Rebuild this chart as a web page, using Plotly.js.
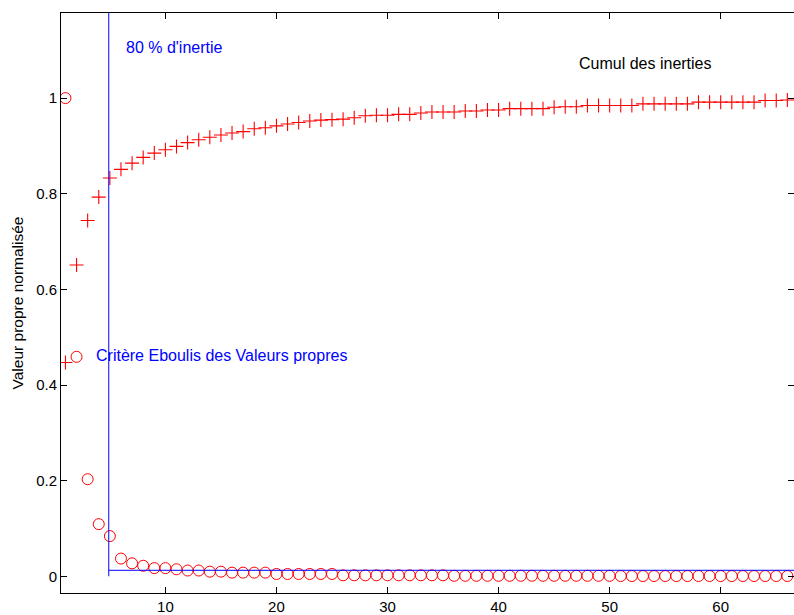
<!DOCTYPE html>
<html>
<head>
<meta charset="utf-8">
<script src="https://cdn.plot.ly/plotly-3.0.1.min.js"></script>
<style>html,body{margin:0;padding:0;background:#fff;}#chart{width:794px;height:615px;}</style>
</head>
<body>
<div id="chart"></div>
<script>
// Normalised eigenvalues (circles)
const valeursPropres = [
  1.0, 0.459, 0.203, 0.109, 0.084, 0.037, 0.027, 0.022, 0.017, 0.017,
  0.0146, 0.012, 0.012, 0.0096, 0.0096, 0.0076, 0.0076, 0.0076, 0.0076, 0.0048,
  0.0048, 0.0048, 0.0048, 0.0048, 0.0048, 0.002, 0.002, 0.002, 0.002, 0.002,
  0.002, 0.002, 0.002, 0.002, 0.002, 0.001, 0.001, 0.001, 0.001, 0.001,
  0.001, 0.001, 0.001, 0.001, 0.001, 0.001, 0.001, 0.001, 0.001, 0.001,
  0.0005, 0.0005, 0.0005, 0.0005, 0.0005, 0.0005, 0.0005, 0.0005, 0.0005, 0.0005,
  0.0005, 0.0005, 0.0005, 0.0005, 0.0005, 0.0005
];
// Cumulative inertia (crosses)
const cumulInerties = [
  0.447, 0.651, 0.744, 0.793, 0.833, 0.851, 0.864, 0.876, 0.885, 0.892,
  0.899, 0.907, 0.913, 0.918, 0.923, 0.927, 0.930, 0.936, 0.938, 0.942,
  0.946, 0.949, 0.952, 0.954, 0.955, 0.956, 0.959, 0.963, 0.964, 0.964,
  0.966, 0.966, 0.969, 0.971, 0.971, 0.971, 0.973, 0.973, 0.975, 0.975,
  0.978, 0.978, 0.978, 0.978, 0.981, 0.982, 0.982, 0.9845, 0.9845, 0.9845,
  0.9845, 0.9845, 0.988, 0.988, 0.988, 0.988, 0.988, 0.9916, 0.9916, 0.9916,
  0.9916, 0.9916, 0.9916, 0.995, 0.995, 0.996
];
const composantes = valeursPropres.map((_, i) => i + 1);
// Reference lines
const seuilInertieX = [4.9, 4.9];
const seuilInertieY = [0, 1.25];
const eboulisX = [4.9, 70];
const eboulisY = [0.0125, 0.0125];
// Texts
const labels = {
  inertie: "80 % d'inertie",
  eboulis: "Critère Eboulis des Valeurs propres",
  cumul: "Cumul des inerties",
  yTitle: "Valeur propre normalisée"
};
const xTicks = [10, 20, 30, 40, 50, 60];
const yTicks = [0, 0.2, 0.4, 0.6, 0.8, 1];

const font = "Liberation Sans, Arial, sans-serif";

const traces = [
  {
    x: composantes, y: valeursPropres, mode: 'markers', type: 'scatter',
    marker: {symbol: 'circle-open', size: 11, color: '#ff0000', line: {width: 1, color: '#ff0000'}},
    cliponaxis: true, hoverinfo: 'none'
  },
  {
    x: composantes, y: cumulInerties, mode: 'markers', type: 'scatter',
    marker: {symbol: 'cross-thin-open', size: 10, color: '#ff0000', line: {width: 1.1, color: '#ff0000'}},
    cliponaxis: true, hoverinfo: 'none'
  },
  {
    x: seuilInertieX, y: seuilInertieY, mode: 'lines', type: 'scatter',
    line: {color: '#0000ff', width: 1}, hoverinfo: 'none'
  },
  {
    x: eboulisX, y: eboulisY, mode: 'lines', type: 'scatter',
    line: {color: '#0000ff', width: 1}, hoverinfo: 'none'
  }
];

const axisCommon = {
  showline: true, linecolor: '#000', linewidth: 1, mirror: 'ticks',
  ticks: 'inside', ticklen: 6, tickcolor: '#000', tickwidth: 1,
  showgrid: false, zeroline: false,
  tickfont: {family: font, size: 15, color: '#000'}
};

const layout = {
  width: 794, height: 615,
  margin: {l: 61, r: 0, t: 13, b: 22},
  paper_bgcolor: '#fff', plot_bgcolor: '#fff',
  showlegend: false,
  font: {family: font, size: 15, color: '#000'},
  xaxis: Object.assign({}, axisCommon, {
    range: [0.6, 66.6], tickmode: 'array', tickvals: xTicks, ticktext: xTicks.map(String)
  }),
  yaxis: Object.assign({}, axisCommon, {
    range: [-0.035, 1.178], tickmode: 'array', tickvals: yTicks, ticktext: yTicks.map(String),
    title: {text: labels.yTitle, font: {family: font, size: 15.5, color: '#000'}, standoff: 8}
  }),
  annotations: [
    {x: 6.3, y: 1.105, xref: 'x', yref: 'y', text: labels.inertie, showarrow: false,
     xanchor: 'left', yanchor: 'middle', font: {family: font, size: 16, color: '#0000ff'}},
    {x: 3.57, y: 0.4615, xref: 'x', yref: 'y', text: labels.eboulis, showarrow: false,
     xanchor: 'left', yanchor: 'middle', font: {family: font, size: 16, color: '#0000ff'}},
    {x: 47.02, y: 1.073, xref: 'x', yref: 'y', text: labels.cumul, showarrow: false,
     xanchor: 'left', yanchor: 'middle', font: {family: font, size: 16, color: '#000'}}
  ]
};

Plotly.newPlot('chart', traces, layout, {staticPlot: true, displayModeBar: false});
</script>
</body>
</html>
